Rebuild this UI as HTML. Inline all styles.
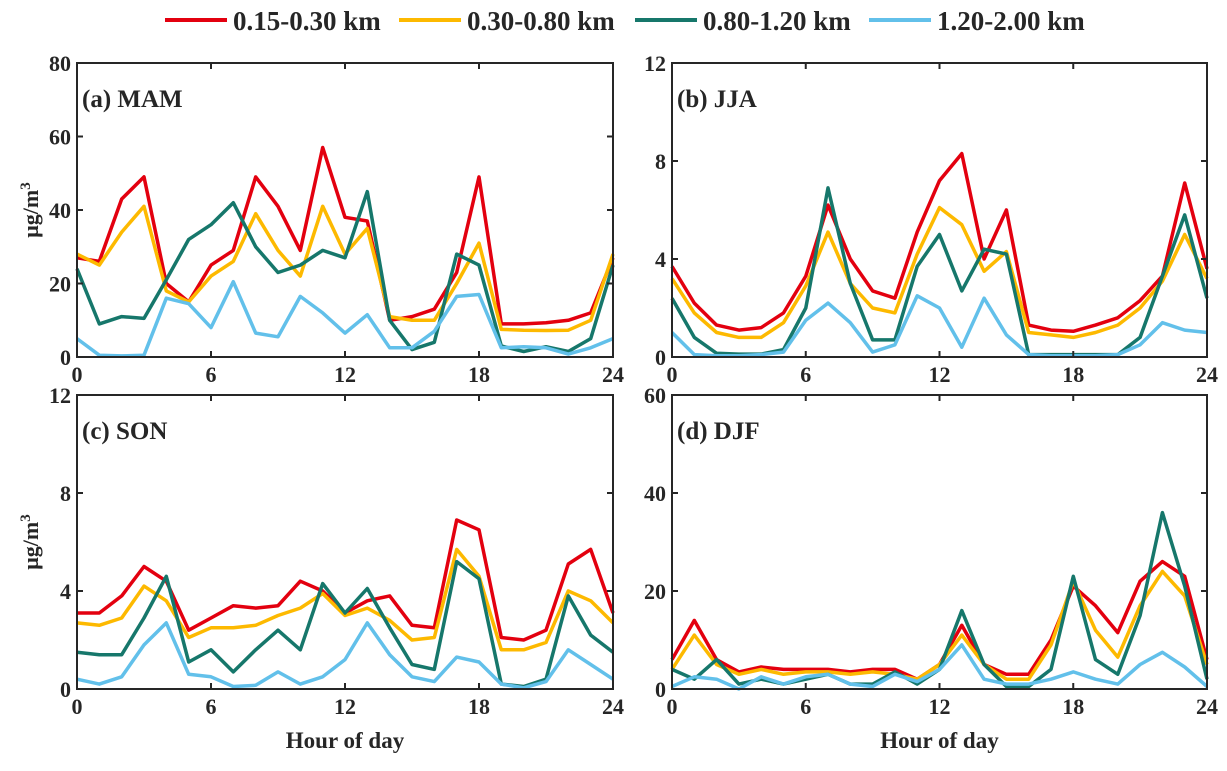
<!DOCTYPE html>
<html><head><meta charset="utf-8"><style>
body{margin:0;background:#fff;}
svg text{font-family:"Liberation Serif",serif;font-weight:bold;fill:#262626;}
</style></head><body>
<svg id="chart" width="1227" height="766" xmlns="http://www.w3.org/2000/svg"></svg>
<script>
const hours=[0,1,2,3,4,5,6,7,8,9,10,11,12,13,14,15,16,17,18,19,20,21,22,23,24];
const seriesNames=["0.15-0.30 km","0.30-0.80 km","0.80-1.20 km","1.20-2.00 km"];
const colors=["#e3000f","#fdb900","#16776b","#62c0ea"];
const panelTitles=["(a) MAM","(b) JJA","(c) SON","(d) DJF"];
const yMax=[80,12,12,60];
const yTicksA=[0,20,40,60,80];
const yTicksB=[0,4,8,12];
const yTicksC=[0,4,8,12];
const yTicksD=[0,20,40,60];
const xTicks=[0,6,12,18,24];
const mamRed=[27,26,43,49,20,15,25,29,49,41,29,57,38,37,10,11,13,23,49,9,9,9.3,10,12,27];
const mamYellow=[28,25,34,41,18,15,22,26,39,29,22,41,28,35,11,10,10,20,31,7.5,7.3,7.2,7.3,10,28];
const mamGreen=[24,9,11,10.5,21,32,36,42,30,23,25,29,27,45,10,2,4,28,25,3,1.5,2.8,1.5,5,25];
const mamBlue=[5,0.5,0.3,0.5,16,14.5,8,20.5,6.5,5.5,16.5,12,6.5,11.5,2.5,2.5,7,16.5,17,2.5,2.8,2.5,0.8,2.5,5];
const jjaRed=[3.7,2.2,1.3,1.1,1.2,1.8,3.3,6.2,4.0,2.7,2.4,5.1,7.2,8.3,4.0,6.0,1.3,1.1,1.05,1.3,1.6,2.3,3.3,7.1,3.6];
const jjaYellow=[3.2,1.8,1.0,0.8,0.8,1.4,2.9,5.1,3.0,2.0,1.8,4.2,6.1,5.4,3.5,4.3,1.0,0.9,0.8,1.0,1.3,2.0,3.1,5.0,3.2];
const jjaGreen=[2.4,0.8,0.15,0.12,0.12,0.3,2.0,6.9,3.0,0.7,0.7,3.7,5.0,2.7,4.4,4.2,0.1,0.1,0.1,0.1,0.1,0.8,3.3,5.8,2.4];
const jjaBlue=[1.0,0.1,0.05,0.05,0.1,0.2,1.5,2.2,1.4,0.2,0.5,2.5,2.0,0.4,2.4,0.9,0.1,0.05,0.05,0.05,0.1,0.5,1.4,1.1,1.0];
const sonRed=[3.1,3.1,3.8,5.0,4.4,2.4,2.9,3.4,3.3,3.4,4.4,4.0,3.1,3.6,3.8,2.6,2.5,6.9,6.5,2.1,2.0,2.4,5.1,5.7,3.1];
const sonYellow=[2.7,2.6,2.9,4.2,3.6,2.1,2.5,2.5,2.6,3.0,3.3,3.9,3.0,3.3,2.8,2.0,2.1,5.7,4.6,1.6,1.6,1.9,4.0,3.6,2.7];
const sonGreen=[1.5,1.4,1.4,2.9,4.6,1.1,1.6,0.7,1.6,2.4,1.6,4.3,3.1,4.1,2.5,1.0,0.8,5.2,4.5,0.2,0.1,0.4,3.8,2.2,1.5];
const sonBlue=[0.4,0.2,0.5,1.8,2.7,0.6,0.5,0.1,0.15,0.7,0.2,0.5,1.2,2.7,1.4,0.5,0.3,1.3,1.1,0.2,0.05,0.3,1.6,1.0,0.4];
const djfRed=[6,14,6,3.5,4.5,4,4,4,3.5,4,4,2,5,13,5,3,3,10,21,17,11.5,22,26,23,6];
const djfYellow=[4,11,5,3,4,3,3.5,3.5,3,3.5,3,2,5,11,5,2,2,9,22,12,6.5,17,24,19,5];
const djfGreen=[4,2,6,1,2,1,2,3,1,1,3.5,1,4,16,5,0.5,0.5,4,23,6,3,15,36,21,2];
const djfBlue=[0.5,2.5,2,0,2.5,1,2.5,3,1,0.5,3,1.5,4,9,2,1,1,2,3.5,2,1,5,7.5,4.5,0.5];

const panelData=[[mamRed,mamYellow,mamGreen,mamBlue],[jjaRed,jjaYellow,jjaGreen,jjaBlue],[sonRed,sonYellow,sonGreen,sonBlue],[djfRed,djfYellow,djfGreen,djfBlue]];
const panelTicks=[yTicksA,yTicksB,yTicksC,yTicksD];
const boxes=[{l:77,r:613,t:63,b:357},{l:672,r:1207,t:63,b:357},{l:77,r:613,t:395,b:689},{l:672,r:1207,t:395,b:689}];
const NS="http://www.w3.org/2000/svg";
const svg=document.getElementById('chart');
function mk(tag,attrs,parent){const e=document.createElementNS(NS,tag);for(const k in attrs)e.setAttribute(k,attrs[k]);(parent||svg).appendChild(e);return e;}

// legend
const lx=[165,399,635,869];
seriesNames.forEach((n,i)=>{
  const g=mk('g',{});
  
  
  mk('line',{x1:lx[i],x2:lx[i]+62,y1:20,y2:20,stroke:colors[i],'stroke-width':4},g);
  const t=mk('text',{x:lx[i]+68,y:30,'font-size':27,fill:'#000'},g);t.textContent=n;
});

boxes.forEach((B,p)=>{
  const g=mk('g',{});
  
  
  const xs=h=>B.l+(B.r-B.l)*h/24;
  const ys=v=>B.b-(B.b-B.t)*v/yMax[p];
  panelData[p].forEach((arr,si)=>{
    const pts=arr.map((v,i)=>xs(hours[i]).toFixed(1)+','+ys(v).toFixed(1)).join(' ');
    const pl=mk('polyline',{points:pts,fill:'none',stroke:colors[si],'stroke-width':3.5,'stroke-linejoin':'round'},g);
    
    
  });
  mk('rect',{x:B.l,y:B.t,width:B.r-B.l,height:B.b-B.t,fill:'none',stroke:'#262626','stroke-width':2},g);
  xTicks.forEach(h=>{
    const x=xs(h);
    mk('line',{x1:x,x2:x,y1:B.b,y2:B.b-6,stroke:'#262626','stroke-width':2},g);
    mk('line',{x1:x,x2:x,y1:B.t,y2:B.t+6,stroke:'#262626','stroke-width':2},g);
    const t=mk('text',{x:x,y:B.b+25,'font-size':22,'text-anchor':'middle'},g);t.textContent=h;
    
    
  });
  panelTicks[p].forEach(v=>{
    const y=ys(v);
    mk('line',{x1:B.l,x2:B.l+6,y1:y,y2:y,stroke:'#262626','stroke-width':2},g);
    mk('line',{x1:B.r,x2:B.r-6,y1:y,y2:y,stroke:'#262626','stroke-width':2},g);
    const t=mk('text',{x:B.l-6,y:y+8,'font-size':22,'text-anchor':'end'},g);t.textContent=v;
    
    
  });
  const tt=mk('text',{x:B.l+5,y:B.t+44,'font-size':25,fill:'#000'},g);tt.textContent=panelTitles[p];
  
  
  if(p%2===0){
    const yl=mk('text',{transform:`translate(38,${(B.t+B.b)/2}) rotate(-90)`,'font-size':22,'text-anchor':'middle'},g);
    yl.innerHTML='μg/m<tspan dy="-8" font-size="15">3</tspan>';
    
    
  }
  if(p>=2){
    const xl=mk('text',{x:(B.l+B.r)/2,y:748,'font-size':23,'text-anchor':'middle'},g);xl.textContent='Hour of day';
    
    
  }
});
</script>
</body></html>
